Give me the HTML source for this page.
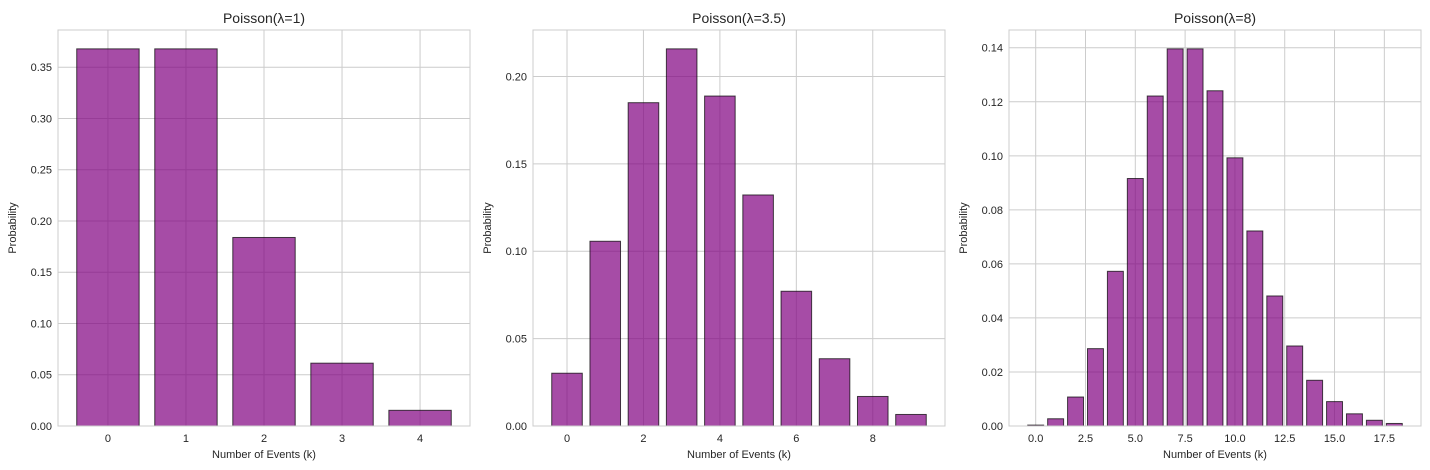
<!DOCTYPE html>
<html><head><meta charset="utf-8">
<style>
html,body{margin:0;padding:0;background:#fff;}
svg{display:block;font-family:"Liberation Sans","DejaVu Sans",sans-serif;}
</style></head>
<body>
<svg id="chart" width="1430" height="470" xmlns="http://www.w3.org/2000/svg"></svg>
<script>
const kA = [0,1,2,3,4];
const pA = [0.3679,0.3679,0.1839,0.0613,0.0153];
const kB = [0,1,2,3,4,5,6,7,8,9];
const pB = [0.0302,0.1057,0.1850,0.2158,0.1888,0.1322,0.0771,0.0385,0.0169,0.0066];
const kC = [0,1,2,3,4,5,6,7,8,9,10,11,12,13,14,15,16,17,18];
const pC = [0.00034,0.00268,0.01073,0.02863,0.05725,0.0916,0.12214,0.13959,0.13959,0.12408,0.09926,0.07219,0.04813,0.02962,0.01692,0.00903,0.00451,0.00212,0.00094];
const titles = ["Poisson(λ=1)","Poisson(λ=3.5)","Poisson(λ=8)"];
const xTicksA = [0,1,2,3,4];
const xTicksB = [0,2,4,6,8];
const xTicksC = [0,2.5,5,7.5,10,12.5,15,17.5];
const yTicksA = [0,0.05,0.1,0.15,0.2,0.25,0.3,0.35];
const yTicksB = [0,0.05,0.1,0.15,0.2];
const yTicksC = [0,0.02,0.04,0.06,0.08,0.1,0.12,0.14];

const svg = document.getElementById('chart');
const NS = 'http://www.w3.org/2000/svg';
function mk(tag, attrs, parent){const e=document.createElementNS(NS,tag);for(const k in attrs)e.setAttribute(k,attrs[k]);(parent||svg).appendChild(e);return e;}

const panels = [
 {k:kA,p:pA,xt:xTicksA,yt:yTicksA,left:58,xdec:0,name:'lambda-1'},
 {k:kB,p:pB,xt:xTicksB,yt:yTicksB,left:533,xdec:0,name:'lambda-3-5'},
 {k:kC,p:pC,xt:xTicksC,yt:yTicksC,left:1009,xdec:1,name:'lambda-8'}
];
const TOP=30, BOT=426, W=412;
panels.forEach((P,pi)=>{
  const g = mk('g',{});
  
  
  const kmin=Math.min(...P.k)-0.4, kmax=Math.max(...P.k)+0.4, m=(kmax-kmin)*0.05;
  const x0=kmin-m, x1=kmax+m;
  const ymax=Math.max(...P.p)*1.05;
  const sx=v=>P.left+(v-x0)/(x1-x0)*W;
  const sy=v=>BOT-v/ymax*(BOT-TOP);
  // grid
  P.yt.forEach(t=>{
    const l=mk('line',{x1:P.left,x2:P.left+W,y1:sy(t),y2:sy(t),stroke:'#cccccc','stroke-width':1},g);
    
    
    const tx=mk('text',{x:P.left-6,y:sy(t)+4,'text-anchor':'end','font-size':11,fill:'#262626'},g);
    tx.textContent=t.toFixed(2);
    
    
  });
  P.xt.forEach(t=>{
    const l=mk('line',{x1:sx(t),x2:sx(t),y1:TOP,y2:BOT,stroke:'#cccccc','stroke-width':1},g);
    
    
    const tx=mk('text',{x:sx(t),y:BOT+16,'text-anchor':'middle','font-size':11,fill:'#262626'},g);
    tx.textContent=t.toFixed(P.xdec);
    
    
  });
  // bars
  P.k.forEach((k,i)=>{
    const b=mk('rect',{x:sx(k-0.4),y:sy(P.p[i]),width:sx(k+0.4)-sx(k-0.4),height:BOT-sy(P.p[i]),fill:'rgba(128,0,128,0.7)',stroke:'rgba(0,0,0,0.7)','stroke-width':1},g);
    
    
  });
  // frame
  const f=mk('rect',{x:P.left,y:TOP,width:W,height:BOT-TOP,fill:'none',stroke:'#cccccc','stroke-width':1},g);
  
  
  const ti=mk('text',{x:P.left+W/2,y:TOP-7,'text-anchor':'middle','font-size':14,fill:'#262626'},g);
  ti.textContent=titles[pi];
  
  
  const xl=mk('text',{x:P.left+W/2,y:458,'text-anchor':'middle','font-size':11,fill:'#262626'},g);
  xl.textContent='Number of Events (k)';
  
  
  const yx=P.left-42, yy=(TOP+BOT)/2;
  const yl=mk('text',{x:yx,y:yy,'text-anchor':'middle','font-size':11,fill:'#262626',transform:`rotate(-90 ${yx} ${yy})`},g);
  yl.textContent='Probability';
  
  
});
</script>
</body></html>
